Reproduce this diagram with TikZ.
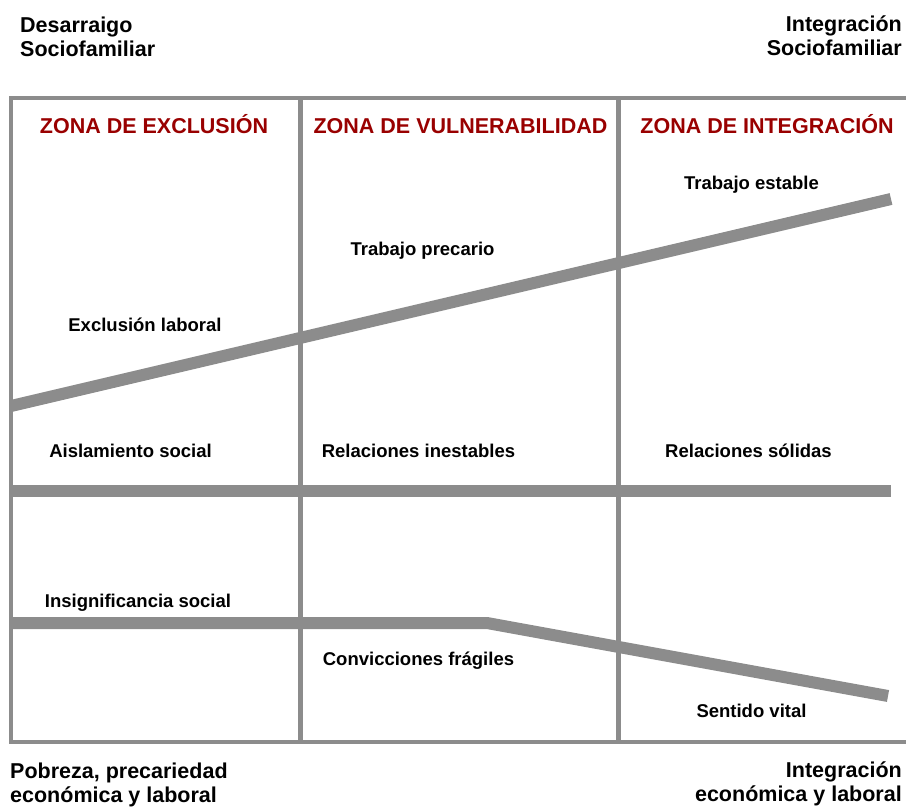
\documentclass[tikz,border=0pt]{standalone}
\usepackage{fontspec}
\setmainfont{Liberation Sans}
\usetikzlibrary{positioning}
\definecolor{linegray}{HTML}{8C8C8C}
\definecolor{zonered}{HTML}{990000}

\begin{document}
\begin{tikzpicture}[x=1pt,y=-1pt,
    grid/.style={draw=linegray,line width=4pt},
    band/.style={draw=linegray,line width=12pt},
    zona/.style={font=\bfseries\fontsize{21.5}{24}\selectfont,text=zonered,inner sep=0pt,anchor=base},
    etiq/.style={font=\bfseries\fontsize{18.5}{22}\selectfont,inner sep=0pt,anchor=base},
    esquina/.style={font=\bfseries\fontsize{21.5}{24}\selectfont,inner sep=0pt}]
\useasboundingbox (0,0) rectangle (906,808);

% marco y columnas
\draw[grid] (906,98) -- (11,98) -- (11,742) -- (906,742);
\foreach \x in {300,618} {%
    \draw[grid,line width=5pt] (\x,98) -- (\x,742);
}

% ejes
\coordinate (lab0) at (11,406);   \coordinate (lab1) at (891,199);
\coordinate (soc0) at (11,491);   \coordinate (soc1) at (891,491);
\coordinate (sen0) at (11,623);   \coordinate (senk) at (487,623);
\coordinate (sen1) at (888,696);
\draw[band] (lab0) -- (lab1);
\draw[band] (soc0) -- (soc1);
\draw[band] (sen0) -- (senk) -- (sen1);

% zonas
\foreach \x/\A [count=\i] in {154/ZONA DE EXCLUSIÓN, 460.5/ZONA DE VULNERABILIDAD, 767/ZONA DE INTEGRACIÓN} {%
    \node[zona] (zona\i) at (\x,133) {\A};
}

% etiquetas
\foreach \x/\y/\A [count=\i] in {751.5/189/Trabajo estable, 422.5/255/Trabajo precario,
    145/331/Exclusión laboral, 130.5/457/Aislamiento social, 418.5/457/Relaciones inestables,
    748.5/457/Relaciones sólidas, 138/607/Insignificancia social,
    418.5/665/Convicciones frágiles, 751.5/717/Sentido vital} {%
    \node[etiq] (et\i) at (\x,\y) {\A};
}

% esquinas
\node[esquina,align=left,anchor=north west] (desarraigo) at (20,17) {Desarraigo\\Sociofamiliar};
\node[esquina,align=right,anchor=north east] (integsoc) at (902,16) {Integración\\Sociofamiliar};
\node[esquina,align=left,anchor=north west] (pobreza) at (10,763) {Pobreza, precariedad\\económica y laboral};
\node[esquina,align=right,anchor=north east] (integeco) at (902,762) {Integración\\económica y laboral};
\end{tikzpicture}
\end{document}
